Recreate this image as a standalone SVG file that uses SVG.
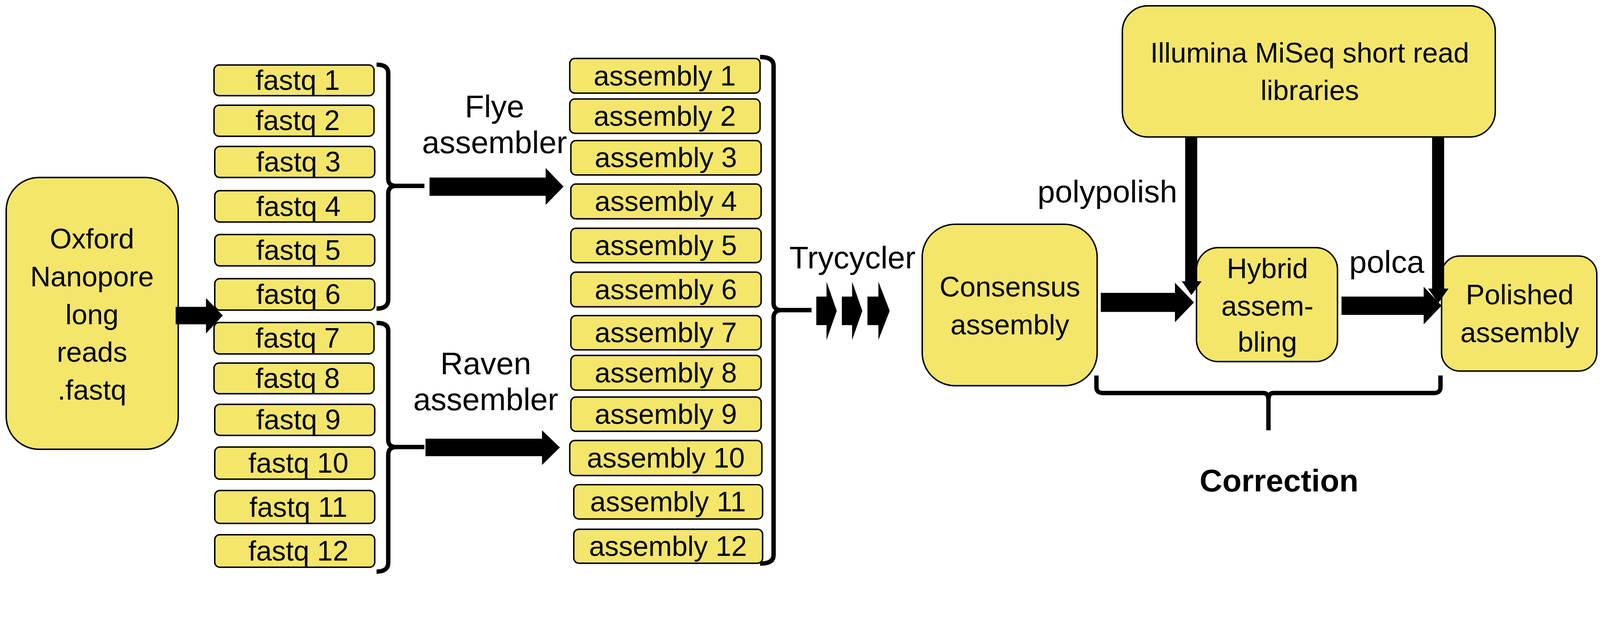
<svg xmlns="http://www.w3.org/2000/svg" width="4398" height="1623" viewBox="0 0 4398 1623">
<style>
.b{fill:#F3E66A;stroke:#000;stroke-width:4}
.t{font-family:"Liberation Sans",Arial,sans-serif;font-size:77px;text-anchor:middle;fill:#000}
.l{font-family:"Liberation Sans",Arial,sans-serif;font-size:86px;text-anchor:middle;fill:#000}
.br{fill:none;stroke:#000;stroke-width:12}
</style>
<rect width="4398" height="1623" fill="#fff"/>
<g transform="scale(0.935)">
<g id="oxford"><rect class="b" x="17" y="486" width="471" height="744" rx="90"/>
<text class="t" x="252" y="680" font-size="80">Oxford</text><text class="t" x="252" y="784" font-size="80">Nanopore</text><text class="t" x="252" y="888" font-size="80">long</text><text class="t" x="252" y="990" font-size="80">reads</text><text class="t" x="252" y="1094" font-size="80">.fastq</text></g>
<g id="fastq">
<g id="fastq1"><rect class="b" x="586" y="178" width="438" height="84" rx="14"/><text class="t" x="815" y="246">fastq 1</text></g>
<g id="fastq2"><rect class="b" x="586" y="288" width="438" height="85" rx="14"/><text class="t" x="815" y="356">fastq 2</text></g>
<g id="fastq3"><rect class="b" x="588" y="401" width="438" height="85" rx="14"/><text class="t" x="817" y="469">fastq 3</text></g>
<g id="fastq4"><rect class="b" x="588" y="522" width="438" height="86" rx="14"/><text class="t" x="817" y="591">fastq 4</text></g>
<g id="fastq5"><rect class="b" x="588" y="642" width="438" height="86" rx="14"/><text class="t" x="817" y="711">fastq 5</text></g>
<g id="fastq6"><rect class="b" x="588" y="763" width="438" height="86" rx="14"/><text class="t" x="817" y="832">fastq 6</text></g>
<g id="fastq7"><rect class="b" x="586" y="883" width="438" height="86" rx="14"/><text class="t" x="815" y="952">fastq 7</text></g>
<g id="fastq8"><rect class="b" x="586" y="994" width="438" height="84" rx="14"/><text class="t" x="815" y="1062">fastq 8</text></g>
<g id="fastq9"><rect class="b" x="588" y="1107" width="438" height="85" rx="14"/><text class="t" x="817" y="1175">fastq 9</text></g>
<g id="fastq10"><rect class="b" x="588" y="1224" width="438" height="88" rx="14"/><text class="t" x="817" y="1294">fastq 10</text></g>
<g id="fastq11"><rect class="b" x="588" y="1343" width="438" height="90" rx="14"/><text class="t" x="817" y="1415">fastq 11</text></g>
<g id="fastq12"><rect class="b" x="588" y="1464" width="438" height="89" rx="14"/><text class="t" x="817" y="1535">fastq 12</text></g>
</g>
<g id="assemblies">
<g id="asm1"><rect class="b" x="1560" y="160" width="521" height="95" rx="14"/><text class="t" x="1820" y="234">assembly 1</text></g>
<g id="asm2"><rect class="b" x="1560" y="271" width="521" height="94" rx="14"/><text class="t" x="1820" y="344">assembly 2</text></g>
<g id="asm3"><rect class="b" x="1563" y="385" width="521" height="94" rx="14"/><text class="t" x="1823" y="458">assembly 3</text></g>
<g id="asm4"><rect class="b" x="1563" y="504" width="521" height="95" rx="14"/><text class="t" x="1823" y="578">assembly 4</text></g>
<g id="asm5"><rect class="b" x="1563" y="625" width="521" height="94" rx="14"/><text class="t" x="1823" y="698">assembly 5</text></g>
<g id="asm6"><rect class="b" x="1563" y="745" width="521" height="95" rx="14"/><text class="t" x="1823" y="819">assembly 6</text></g>
<g id="asm7"><rect class="b" x="1563" y="864" width="521" height="94" rx="14"/><text class="t" x="1823" y="937">assembly 7</text></g>
<g id="asm8"><rect class="b" x="1563" y="973" width="521" height="95" rx="14"/><text class="t" x="1823" y="1047">assembly 8</text></g>
<g id="asm9"><rect class="b" x="1563" y="1087" width="521" height="94" rx="14"/><text class="t" x="1823" y="1160">assembly 9</text></g>
<g id="asm10"><rect class="b" x="1560" y="1206" width="526" height="96" rx="14"/><text class="t" x="1823" y="1280">assembly 10</text></g>
<g id="asm11"><rect class="b" x="1571" y="1327" width="517" height="94" rx="14"/><text class="t" x="1829" y="1400">assembly 11</text></g>
<g id="asm12"><rect class="b" x="1571" y="1449" width="517" height="93" rx="14"/><text class="t" x="1829" y="1522">assembly 12</text></g>
</g>
<g id="consensus"><rect class="b" x="2525" y="614" width="479" height="442" rx="90"/><text class="t" x="2765" y="812" font-size="80">Consensus</text><text class="t" x="2765" y="916" font-size="80">assembly</text></g>
<g id="illumina"><rect class="b" x="3073" y="16" width="1021" height="359" rx="70"/><text class="t" x="3586" y="171" font-size="80">Illumina MiSeq short read</text><text class="t" x="3586" y="274" font-size="80">libraries</text></g>
<g id="hybrid"><rect class="b" x="3276" y="678" width="386" height="312" rx="60"/><text class="t" x="3470" y="761" font-size="80">Hybrid</text><text class="t" x="3470" y="864" font-size="80">assem-</text><text class="t" x="3470" y="963" font-size="80">bling</text></g>
<g id="polished"><rect class="b" x="3947" y="701" width="425" height="315" rx="50" stroke-width="12"/><text class="t" x="4161" y="833" font-size="80">Polished</text><text class="t" x="4161" y="937" font-size="80">assembly</text></g>
<g id="labels">
<text class="l" x="1354" y="321">Flye</text><text class="l" x="1354" y="419">assembler</text>
<text class="l" x="1330" y="1025">Raven</text><text class="l" x="1330" y="1123">assembler</text>
<text class="l" x="2334" y="735">Trycycler</text>
<text class="l" x="3032" y="554">polypolish</text>
<text class="l" x="3797" y="747">polca</text>
<text class="l" x="3502" y="1345" font-weight="bold">Correction</text>
</g>
<g id="connectors">
<path class="br" d="M1031 177 Q1063 177 1063 200 V490 Q1063 509 1085 509 H1162 M1085 509 Q1063 509 1063 530 V820 Q1063 845 1031 845"/>
<path class="br" d="M1031 884 Q1063 884 1063 905 V1205 Q1063 1224 1085 1224 H1162 M1085 1224 Q1063 1224 1063 1245 V1540 Q1063 1565 1031 1565"/>
<path class="br" d="M2081 156 Q2118 156 2118 180 V830 Q2118 849 2140 849 H2222 M2140 849 Q2118 849 2118 870 V1520 Q2118 1543 2081 1543"/>
<path class="br" d="M3002 1028 V1060 Q3002 1076 3020 1076 H3460 Q3473 1076 3473 1095 V1178 M3473 1095 Q3473 1076 3486 1076 H3926 Q3944 1076 3944 1060 V1028"/>
<polygon points="1176,486 1494,486 1494,460 1543,511 1494,561 1494,536 1176,536"/>
<polygon points="1165,1201 1484,1201 1484,1178 1533,1225 1484,1273 1484,1249 1165,1249"/>
<polygon points="481,840 564,840 564,816 610,864 564,913 564,888 481,888"/>
<polygon points="2235,812 2263,812 2263,771 2291,851 2263,931 2263,890 2235,890"/>
<polygon points="2305,812 2333,812 2333,771 2361,851 2333,931 2333,890 2305,890"/>
<polygon points="2375,812 2405,812 2405,771 2436,851 2405,931 2405,890 2375,890"/>
<polygon points="3014,802 3217,802 3217,774 3269,828 3217,882 3217,854 3014,854"/>
<polygon points="3673,812 3898,812 3898,785 3947,837 3898,888 3898,862 3673,862"/>
<polygon points="3245,375 3278,375 3278,770 3290,770 3262,808 3236,770 3245,770"/>
<polygon points="3921,375 3954,375 3954,790 3966,790 3938,830 3910,790 3921,790"/>
</g>
</g>
</svg>
